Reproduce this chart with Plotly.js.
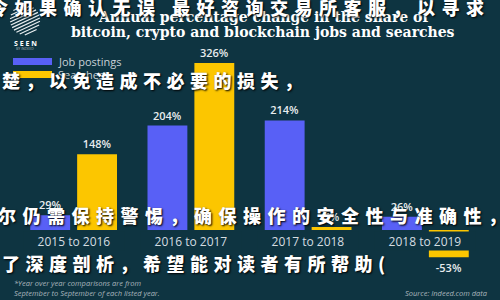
<!DOCTYPE html>
<html>
<head>
<meta charset="utf-8">
<script src="https://cdn.plot.ly/plotly-3.0.1.min.js"></script>
<style>html,body{margin:0;padding:0;background:#0e3441;}</style>
</head>
<body>
<div id="chart" style="width:500px;height:300px;"></div>
<script>
// ---- data ----
var categories = ["2015 to 2016", "2016 to 2017", "2017 to 2018", "2018 to 2019"];
var jobPostings = [29, 204, 214, 26];
var searches = [148, 326, 6, -53];
var seriesNames = ["Job postings", "Searches"];

// ---- layout helpers (pixel -> paper) ----
var W = 500, H = 300;
var M = {l: 15, r: 16, t: 25, b: 9};
var PW = W - M.l - M.r, PH = H - M.t - M.b;
function px(x) { return (x - M.l) / PW; }
function py(y) { return 1 - (y - M.t) / PH; }

var BG = "#0e3441";
var BLUE = "#5860f6";
var YELLOW = "#fcc600";

function pct(v) { return v + "%"; }

var traces = [
  {type: "bar", name: seriesNames[0], x: categories, y: jobPostings,
   marker: {color: BLUE}, text: jobPostings.map(pct), textposition: "outside",
   cliponaxis: false, hoverinfo: "skip",
   textfont: {family: "Open Sans", size: 11, color: "#e8ecee", weight: 600}},
  {type: "bar", name: seriesNames[1], x: categories, y: searches,
   marker: {color: YELLOW}, text: searches.map(pct), textposition: "outside",
   cliponaxis: false, hoverinfo: "skip",
   textfont: {family: "Open Sans", size: 11, color: "#e8ecee", weight: 600}}
];

var annotations = [];
// category labels sitting on the zero line
categories.forEach(function (c) {
  annotations.push({x: c, y: 0, xref: "x", yref: "y", yanchor: "top", yshift: -1,
    text: c, showarrow: false, width: 100, height: 18, borderpad: 0, bgcolor: BG,
    font: {family: "Open Sans", size: 12, color: "#d5dde1"}});
});
// title
annotations.push({xref: "paper", yref: "paper", x: px(263), y: py(17), xanchor: "center", yanchor: "middle",
  text: "Annual percentage change in the share of", showarrow: false,
  font: {family: "DejaVu Serif", size: 14, color: "#ffffff", weight: "bold"}});
annotations.push({xref: "paper", yref: "paper", x: px(263), y: py(32), xanchor: "center", yanchor: "middle",
  text: "bitcoin, crypto and blockchain jobs and searches", showarrow: false,
  font: {family: "DejaVu Serif", size: 14, color: "#ffffff", weight: "bold"}});
// legend text
annotations.push({xref: "paper", yref: "paper", x: px(56), y: py(61), xanchor: "left", yanchor: "middle",
  text: seriesNames[0], showarrow: false, font: {family: "Open Sans", size: 11, color: "#c9d2d7"}});
annotations.push({xref: "paper", yref: "paper", x: px(56), y: py(74), xanchor: "left", yanchor: "middle",
  text: seriesNames[1], showarrow: false, font: {family: "Open Sans", size: 11, color: "#c9d2d7"}});
// logo text
annotations.push({xref: "paper", yref: "paper", x: px(25), y: py(43), xanchor: "center", yanchor: "middle",
  text: "S E E N", showarrow: false, font: {family: "Open Sans", size: 7, color: "#ffffff", weight: "bold"}});
annotations.push({xref: "paper", yref: "paper", x: px(25), y: py(48.5), xanchor: "center", yanchor: "middle",
  text: "BY INDEED", showarrow: false, font: {family: "Open Sans", size: 3.5, color: "#a9b5bc"}});
// footnotes
annotations.push({xref: "paper", yref: "paper", x: px(12), y: py(288), xanchor: "left", yanchor: "middle",
  text: "<i>*Year over year comparisons are from<br>September to September of each listed year.</i>", align: "left",
  showarrow: false, font: {family: "Open Sans", size: 7.5, color: "#a9b5bc"}});
annotations.push({xref: "paper", yref: "paper", x: px(490), y: py(293), xanchor: "right", yanchor: "middle",
  text: "<i>Source: Indeed.com data</i>", showarrow: false,
  font: {family: "Open Sans", size: 7.5, color: "#a9b5bc"}});

// watermark lines
var wm = [
  {t: "令如果确认无误 最好咨询交易所客服，以寻求", x: -12, y: 7, ls: 6.5},
  {t: "楚，以免造成不必要的损失，", x: 0, y: 80, ls: 5.5},
  {t: "尔仍需保持警惕，确保操作的安全性与准确性，", x: -4, y: 215, ls: 6.5},
  {t: "了深度剖析，希望能对读者有所帮助(", x: 0, y: 263, ls: 5.5}
];
wm.forEach(function (w) {
  annotations.push({xref: "paper", yref: "paper", x: px(w.x), y: py(w.y), xanchor: "left", yanchor: "middle",
    text: '<span style="letter-spacing:' + w.ls + 'px">' + w.t + '</span>', showarrow: false,
    font: {family: "Noto Sans CJK SC", size: 18, color: "#ffffff", weight: 900,
           shadow: "1px 1px 2px #000000"}});
});

// shapes: legend swatches and logo
var shapes = [
  {type: "rect", xref: "paper", yref: "paper", x0: px(13), x1: px(52), y0: py(58), y1: py(65),
   fillcolor: BLUE, line: {width: 0}},
  {type: "rect", xref: "paper", yref: "paper", x0: px(13), x1: px(52), y0: py(71), y1: py(78),
   fillcolor: YELLOW, line: {width: 0}}
];
// logo: circle of diagonal stripes
(function () {
  var cx = 25, cy = 20, r = 15, ang = -25 * Math.PI / 180;
  var dx = Math.cos(ang), dy = Math.sin(ang);
  var nx = -dy, ny = dx;
  var path = "";
  for (var d = -13.5; d <= 13.6; d += 3) {
    var half = Math.sqrt(r * r - d * d);
    var mx = cx + nx * d, my = cy + ny * d;
    var x0 = mx - dx * half, y0 = my - dy * half, x1 = mx + dx * half, y1 = my + dy * half;
    path += "M" + px(x0) + "," + py(y0) + " L" + px(x1) + "," + py(y1) + " ";
  }
  shapes.push({type: "path", xref: "paper", yref: "paper", path: path,
    line: {color: "#e9eef0", width: 1.2}});
})();

var layout = {
  width: W, height: H, autosize: false,
  margin: M,
  paper_bgcolor: BG, plot_bgcolor: BG,
  showlegend: false,
  barmode: "group", bargap: 0.2, bargroupgap: 0.15,
  xaxis: {type: "category", showticklabels: false, showgrid: false, zeroline: false, showline: false, ticks: ""},
  yaxis: {range: [-119.07, 400.2], showticklabels: false, showgrid: false, zeroline: false, showline: false, ticks: ""},
  annotations: annotations,
  shapes: shapes
};

Plotly.newPlot("chart", traces, layout, {displayModeBar: false, staticPlot: true});
</script>
</body>
</html>
